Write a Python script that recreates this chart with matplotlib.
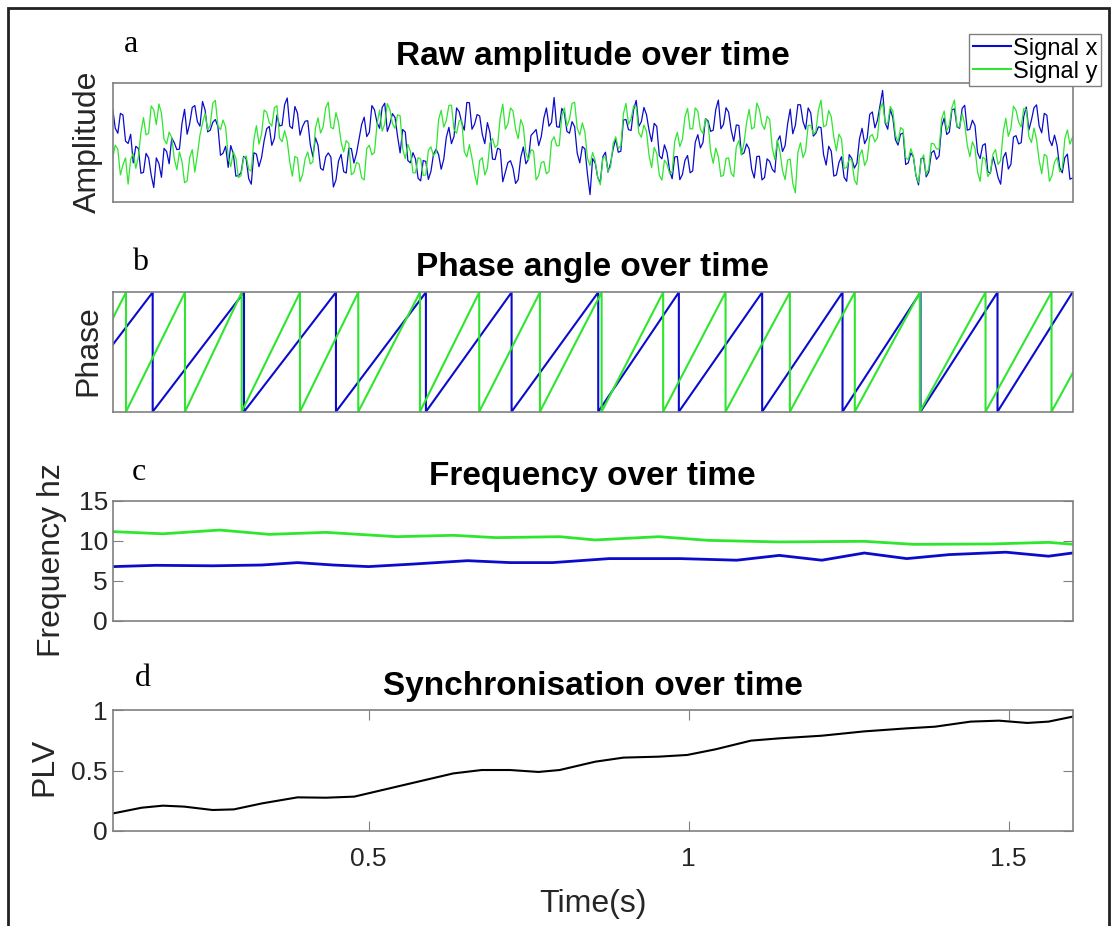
import numpy as np
import matplotlib.pyplot as plt
from matplotlib.patches import Rectangle

plt.rcParams['font.family'] = ['Liberation Sans', 'DejaVu Sans']

# recording window (s)
t_first, t_last = 0.1, 1.6

# raw amplitude; the *_mid lists are the samples that fall
# between two neighbouring samples of the main lists
amp_x = [1.42, 0.39, 1.16, -0.04, -0.86, -0.25, -1.26, -0.65, -1.9, -0.89,
         -0.25, -0.9, -0.01, -0.28, 1.4, 0.8, 1.56, 0.69, 1.37, 0.52,
         0.97, -0.54, -0.16, -0.13, -1.42, -1.28, -0.69, -1.76, -0.49, -0.64,
         0.58, -0.12, 1.16, 0.73, 1.88, 0.59, 1.24, 0.68, 0.92, -0.6,
         -0.11, -1.17, -0.44, -1.88, -0.78, -1.23, -0.24, -0.87, 0.15, 1.07,
         0.43, 1.38, 0.6, 1.66, 0.77, 1.06, -0.44, 0.44, -0.86, -0.7,
         -1.62, -0.8, -1.22, -0.28, -1.13, 0.22, -0.05, 1.46, 0.84, 1.69,
         0.56, 1.18, 0.35, 0.84, -0.7, -0.24, -1.66, -0.85, -1.09, -1.57,
         -0.19, -0.71, 0.42, -0.13, 1.03, 0.69, 1.9, 0.64, 1.24, 0.39,
         0.67, -0.86, -0.27, -2.2, -0.86, -1.69, -0.41, -0.88, 0.15, -0.37,
         0.97, 0.51, 1.78, 0.88, 1.18, 0.04, 0.68, -0.69, -0.42, -1.53,
         -0.59, -1.35, -0.55, -1.2, 0.33, 0.0, 0.91, 0.52, 1.79, 0.76,
         1.28, 0.05, 0.72, -0.44, -0.27, -1.5, -0.58, -1.48, -0.8, -1.26,
         0.28, -0.14, 1.41, 0.72, 1.59, 0.56, 1.25, 0.39, 0.63, -0.95,
         -0.37, -1.37, -0.6, -1.64, -0.68, -0.88, 0.6, 0.19, 1.29, 0.94,
         2.2, 0.56, 1.04, -0.11, 0.4, -0.86, -0.61, -1.79, -0.66, -1.24,
         -0.34, -0.57, 1.03, 0.44, 1.42, 0.6, 1.57, 0.56, 0.72, -0.68,
         -0.05, -1.3, -0.99, -1.76, -0.42, -0.92, 0.29, -0.01, 1.5, 0.95,
         1.59, 0.41, 1.15, -0.13, -0.14, -1.28, -0.49, -1.5]
amp_x_mid = [0.6, 1.23, 0.06, 0.35, -0.16, -1.3, -0.46, -1.38, -0.65, -1.47,
             -0.38, 0.19, -0.3, 0.81, 0.35, 1.48, 0.88, 1.73, 0.45, 0.85,
             0.67, -0.45, -1.05, -0.48, -1.4, -0.59, -1.53, -0.43, -1.02, 0.07,
             0.68, 0.17, 0.7, 1.6, 0.69, 1.52, 0.31, 0.9, -0.09, 0.2,
             -1.09, -0.61, -0.61, -1.58, -0.5, -1.29, -0.26, -0.46, 0.76, 0.25,
             1.56, 0.84, 1.48, 0.47, 1.22, 0.26, 0.55, -0.76, -0.43, -1.51,
             -0.76, -1.56, -0.5, -0.51, -0.71, 0.64, 0.26, 1.3, 0.52, 1.68,
             0.77, 1.12, -0.05, 0.42, -0.72, -0.3, -1.26, -0.77, -1.73, -0.63,
             -0.9, 0.3, 0.55, 0.25, 1.46, 0.85, 0.67, 1.44, 0.47, 0.88,
             -0.45, -0.17, -1.34, -0.68, -1.48, -0.6, -1.25, -0.27, -0.41, 0.95,
             0.54, 1.4, 0.68, 1.48, 0.51, 0.81, -0.56, -0.1, -1.18, -0.61,
             -1.57, -0.75, -1.28, 0.01, -0.23, 1.01, 0.47, 1.4, 0.58, 1.47,
             0.52, 0.74, -0.51, -0.06, -1.14, -0.59, -1.58, -0.69, -1.13, 0.06,
             -0.38, 0.79, 0.37, 1.6, 0.88, 1.46, 0.27, 0.66, -0.51, -0.16,
             -1.42, -0.84, -1.47, -0.51, -1.08, 0.16, -0.05, 1.19, 0.62, 1.57,
             0.83, 1.4, 0.12, 0.35, -0.93, -0.44, -1.4, -0.68, -1.45, -0.44,
             -0.71, 0.68, 0.34, 1.38, 0.66, 1.44, 0.52, 0.94, -0.43, -0.12,
             -1.23, -0.6, -1.48, -0.64, -1.12, 0.23, -0.06, 1.1, 0.53, 1.47,
             0.7, 1.23, 0.11, 0.31, -1.06, -0.64, -1.55]
amp_y = [-0.63, -0.29, -0.94, -1.76, -0.46, -0.61, 1.05, 0.39, 1.38, 1.63,
         0.14, 0.44, -0.69, -0.4, -1.7, -0.64, -1.25, 0.31, 1.23, 0.73,
         1.78, 0.54, 0.65, -1.02, -0.66, -1.4, -0.57, -1.21, 0.71, 0.35,
         1.28, 0.69, 1.55, 0.03, 0.07, -1.42, -0.65, -1.35, -0.4, -0.82,
         1.04, 0.66, 1.7, 0.58, 0.84, -0.4, -0.04, -1.27, -0.9, -1.58,
         -0.12, -0.42, 1.37, 0.78, 1.4, 0.6, 1.13, -0.68, -0.37, -1.28,
         -0.7, -1.37, -0.18, -0.43, 1.36, 0.93, 1.58, 0.39, 0.94, -0.61,
         -0.66, -1.78, -0.64, -1.09, 0.17, -0.1, 1.62, 0.79, 1.33, 0.16,
         0.68, -0.74, -0.36, -1.39, -0.8, -1.23, 0.24, -0.13, 1.46, 0.99,
         1.7, 0.32, 0.44, -0.97, -0.76, -1.79, -0.6, -1.03, 0.24, -0.14,
         1.65, 0.99, 1.5, 0.22, 0.46, -1.06, -0.46, -1.59, -0.9, -1.24,
         0.43, 0.13, 1.44, 0.59, 1.33, 0.38, 0.82, -0.88, -0.6, -1.38,
         -0.65, -1.44, 0.08, -0.02, 1.4, 0.64, 1.39, 0.55, 0.97, -0.72,
         -0.38, -1.57, -0.7, -2.13, -0.01, -0.36, 0.72, 0.47, 1.79, 0.72,
         1.08, -0.35, 0.15, -1.05, -0.75, -1.78, -0.31, -0.73, 0.34, 0.21,
         1.68, 0.8, 1.33, 0.01, 0.55, -0.73, -0.58, -1.69, -0.52, -1.09,
         -0.06, -0.28, 1.33, 0.74, 1.79, 0.65, 0.78, -0.6, -0.24, -1.64,
         -0.7, -1.27, -0.3, -0.76, 1.02, 0.6, 1.36, 0.66, 1.39, 0.0,
         0.12, -1.32, -0.58, -1.4, -0.63, -1.12, 0.53, 0.22]
amp_y_mid = [-0.11, -1.37, -0.65, -0.71, -1.09, 0.42, 0.32, 1.54, 0.76, 1.24,
             -0.06, 0.22, -1.15, -0.8, -1.62, -0.3, -0.52, 0.82, 0.53, 1.66,
             0.71, 0.95, -0.59, -0.39, -1.48, -0.64, -1.14, 0.1, -0.07, 1.37,
             0.84, 1.47, 0.19, 0.5, -0.83, -0.59, -1.65, -0.68, -0.91, 0.61,
             0.4, 1.48, 0.64, 1.26, 0.02, 0.08, -1.36, -0.84, -1.49, -0.25,
             -0.52, 0.78, 0.48, 1.64, 0.8, 1.17, -0.27, -0.08, -1.28, -0.64,
             -1.39, -0.33, -0.56, 0.97, 0.65, 1.56, 0.54, 0.92, -0.38, -0.09,
             -1.32, -0.76, -1.37, -0.01, -0.21, 1.06, 0.56, 1.46, 0.55, 0.97,
             -0.43, -0.3, -1.58, -0.85, -1.32, 0.05, -0.14, 1.12, 0.68, 1.65,
             0.61, 0.83, -0.67, -0.42, -1.48, -0.65, -1.22, -0.05, -0.25, 1.21,
             0.77, 1.55, 0.41, 0.74, -0.55, -0.21, -1.38, -0.75, -1.32, 0.04,
             -0.17, 1.09, 0.57, 1.46, 0.56, 1.0, -0.38, -0.24, -1.44, -0.67,
             -1.3, -0.18, -0.52, 0.84, 0.57, 1.67, 0.77, 1.11, -0.22, 0.1,
             -1.18, -0.74, -1.72, -0.42, -0.64, 0.73, 0.35, 1.38, 0.66, 1.35,
             0.22, 0.35, -1.1, -0.7, -1.57, -0.55, -0.97, 0.25, 0.03, 1.4,
             0.84, 1.52, 0.32, 0.63, -0.64, -0.26, -1.39, -0.76, -1.36, -0.03,
             -0.27, 0.98, 0.49, 1.47, 0.67, 1.22, -0.11, 0.03, -1.24, -0.62,
             -1.44, -0.49, -0.93, 0.43, 0.26, 1.53, 0.86, 1.43, 0.25, 0.61,
             -0.75, -0.5, -1.64, -0.82, -1.23, 0.15, -0.07]

wraps_x = [0.1625, 0.3052, 0.4489, 0.5895, 0.7234, 0.8588, 0.9848, 1.115,
           1.2406, 1.3625, 1.4828]
wraps_y = [0.1208, 0.213, 0.3016, 0.3927, 0.4838, 0.5802, 0.6728, 0.7677,
           0.8641, 0.9603, 1.0578, 1.1583, 1.2598, 1.3614, 1.4641, 1.5672]
phase_ends_x = [0.38, 3.14]
phase_ends_y = [1.76, -1.13]

# instantaneous frequency (Hz)
freq_t_x = [0.101, 0.1675, 0.256, 0.3335, 0.3889, 0.4443, 0.4996, 0.566,
            0.6546, 0.721, 0.7875, 0.876, 0.9868, 1.0753, 1.1418, 1.2082,
            1.2746, 1.341, 1.4075, 1.496, 1.5625, 1.6]
freq_x = [6.8, 6.96, 6.9, 7.0, 7.3, 7.0, 6.8, 7.1, 7.54, 7.3, 7.3, 7.8, 7.8,
          7.6, 8.2, 7.6, 8.5, 7.8, 8.3, 8.6, 8.1, 8.5]
freq_t_y = [0.101, 0.1785, 0.2671, 0.3446, 0.4332, 0.5439, 0.6325, 0.6989,
            0.7985, 0.8539, 0.9535, 1.031, 1.1418, 1.2746, 1.3521, 1.4739,
            1.5625, 1.6]
freq_y = [11.17, 10.9, 11.37, 10.83, 11.08, 10.54, 10.71, 10.42, 10.54, 10.13,
          10.54, 10.08, 9.88, 9.96, 9.58, 9.63, 9.83, 9.6]

# phase locking value
plv_t = [0.101, 0.1453, 0.1785, 0.2118, 0.256, 0.2893, 0.3335, 0.3889, 0.4332,
         0.4775, 0.5217, 0.5882, 0.6325, 0.6767, 0.721, 0.7653, 0.7985, 0.8539,
         0.8982, 0.9535, 0.9978, 1.0421, 1.0975, 1.1418, 1.2082, 1.2746, 1.341,
         1.3853, 1.4407, 1.485, 1.5293, 1.5625, 1.6]
plv = [0.144, 0.191, 0.208, 0.2, 0.172, 0.177, 0.227, 0.277, 0.274, 0.283,
       0.338, 0.421, 0.476, 0.504, 0.504, 0.488, 0.504, 0.573, 0.607, 0.615,
       0.629, 0.676, 0.748, 0.767, 0.789, 0.825, 0.85, 0.864, 0.906, 0.914,
       0.895, 0.906, 0.947]

BLUE = '#0b0bcc'
GREEN = '#2ee62e'
EDGE = '#808080'
W, H = 1111, 926


def interleave(main, mid):
    out = np.empty(len(main) + len(mid))
    out[0::2] = main
    out[1::2] = mid
    return out


def sawtooth(wraps, ends):
    ts, ps = [t_first], [ends[0]]
    for w in wraps:
        ts += [w, w]
        ps += [np.pi, -np.pi]
    ts.append(t_last)
    ps.append(ends[1])
    return ts, ps


def box(top, bottom):
    # axes rectangle from pixel rows
    return [112.7 / W, 1 - bottom / H, 959.8 / W, (bottom - top) / H]


fig = plt.figure(figsize=(W / 100, H / 100), dpi=100)
ax_a = fig.add_axes(box(83.3, 201.7))
ax_b = fig.add_axes(box(292.3, 411.7))
ax_c = fig.add_axes(box(501, 621))
ax_d = fig.add_axes(box(710.3, 830.7))

sig_x = interleave(amp_x, amp_x_mid)
sig_y = interleave(amp_y, amp_y_mid)
t_amp = np.linspace(t_first, t_last, len(sig_x))
lx, = ax_a.plot(t_amp, sig_x, color=BLUE, lw=0.9, label='Signal x')
ly, = ax_a.plot(t_amp, sig_y, color=GREEN, lw=0.9, label='Signal y')
ax_a.set_ylim(-2.5, 2.5)

ts, ps = sawtooth(wraps_x, phase_ends_x)
ax_b.plot(ts, ps, color=BLUE, lw=1.5)
ts, ps = sawtooth(wraps_y, phase_ends_y)
ax_b.plot(ts, ps, color=GREEN, lw=1.5)
ax_b.set_ylim(-np.pi, np.pi)

ax_c.plot(freq_t_y, freq_y, color=GREEN, lw=2)
ax_c.plot(freq_t_x, freq_x, color=BLUE, lw=2)
ax_c.set_ylim(0, 15)

ax_d.plot(plv_t, plv, color='black', lw=1.5)
ax_d.set_ylim(0, 1)

for ax in (ax_a, ax_b, ax_c, ax_d):
    ax.set_xlim(t_first, t_last)
    for sp in ax.spines.values():
        sp.set_color(EDGE)
        sp.set_linewidth(1.2)
    ax.tick_params(direction='in', length=7, color=EDGE, labelsize=19,
                   labelcolor='#262626', top=True, right=True)

for ax in (ax_a, ax_b):
    ax.set_xticks([])
    ax.set_yticks([])
ax_c.set_xticks([])
ax_c.set_yticks([0, 5, 10, 15])
ax_d.set_xticks([0.5, 1, 1.5], ['0.5', '1', '1.5'])
ax_d.set_yticks([0, 0.5, 1], ['0', '0.5', '1'])
ax_d.tick_params(axis='x', pad=12)

titles = [('Raw amplitude over time', 57), ('Phase angle over time', 268),
          ('Frequency over time', 477), ('Synchronisation over time', 686)]
for text, py in titles:
    fig.text(592.6 / W, 1 - py / H, text, ha='center', va='center',
             fontsize=24, fontweight='bold')

for letter, px, py in [('a', 131, 45), ('b', 140, 262), ('c', 139, 472), ('d', 143, 679)]:
    fig.text(px / W, 1 - py / H, letter, ha='center', va='center',
             fontsize=23, family='Liberation Serif')

for text, px, py in [('Amplitude', 88, 142), ('Phase', 88, 351),
                     ('Frequency hz', 52, 560), ('PLV', 44, 767)]:
    fig.text(px / W, 1 - py / H, text, ha='center', va='center',
             rotation=90, fontsize=23, color='#262626')
fig.text(592.6 / W, 1 - 904 / H, 'Time(s)', ha='center', va='center',
         fontsize=23, color='#262626')

leg = ax_a.legend(handles=[lx, ly], loc='upper right',
                  bbox_to_anchor=(1101 / W, 1 - 34 / H),
                  bbox_transform=fig.transFigure, fontsize=17, fancybox=False,
                  edgecolor=EDGE, framealpha=1, borderpad=0.15,
                  labelspacing=0.05, handlelength=1.6, handletextpad=0.1,
                  borderaxespad=0)
leg.get_frame().set_linewidth(1.0)
for h in leg.legend_handles:
    h.set_linewidth(1.5)

# frame drawn round the whole figure
fig.patches.append(Rectangle((8 / W, -0.01), 1101 / W, 1 - 8 / H + 0.01,
                             transform=fig.transFigure, fill=False,
                             edgecolor='#222222', lw=2))

fig.savefig('out.png', dpi=100)
